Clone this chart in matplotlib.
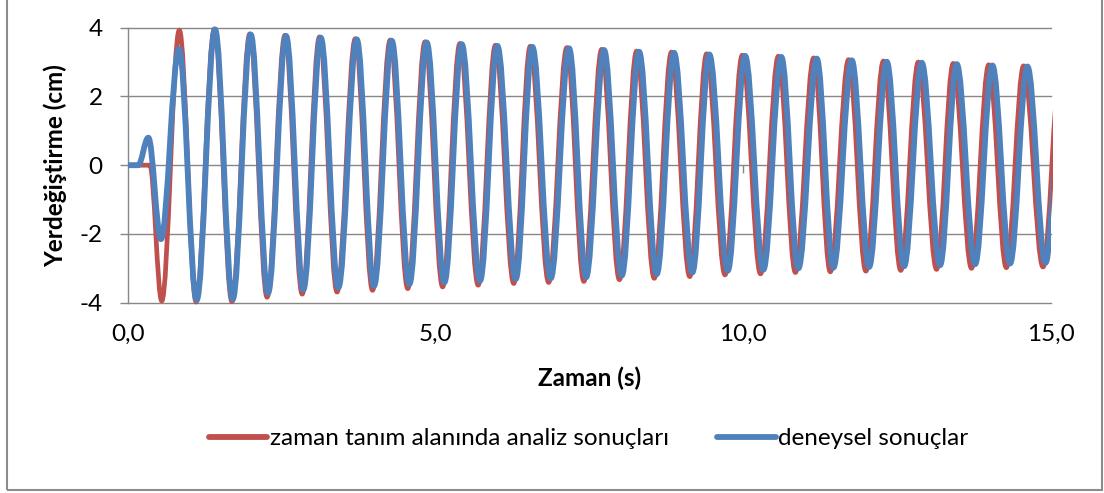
import numpy as np
import matplotlib.pyplot as plt
from matplotlib.path import Path
from matplotlib.patches import PathPatch, Rectangle
from matplotlib.lines import Line2D

plt.rcParams['font.family'] = ['Lato', 'DejaVu Sans']

# extrema (time in s, displacement in cm)
blue_t = [0.0, 0.17, 0.335, 0.54, 0.834, 1.121, 1.419, 1.706, 1.999, 2.280,
          2.573, 2.854, 3.137, 3.423, 3.722, 4.003, 4.291, 4.577, 4.859, 5.146,
          5.428, 5.726, 6.007, 6.306, 6.576, 6.875, 7.172, 7.449, 7.741, 8.029,
          8.310, 8.597, 8.878, 9.176, 9.452, 9.751, 10.033, 10.330, 10.621, 10.899,
          11.198, 11.468, 11.767, 12.048, 12.335, 12.617, 12.904, 13.201, 13.473, 13.771,
          14.052, 14.339, 14.621, 14.915, 15.20]
blue_y = [0, 0, 0.8, -2.15, 3.38, -3.92, 3.95, -3.9, 3.8, -3.72,
          3.76, -3.62, 3.71, -3.56, 3.66, -3.51, 3.62, -3.46, 3.57, -3.41,
          3.52, -3.36, 3.47, -3.31, 3.44, -3.29, 3.40, -3.26, 3.35, -3.21,
          3.30, -3.17, 3.27, -3.12, 3.22, -3.07, 3.18, -3.04, 3.15, -3.0,
          3.10, -2.98, 3.05, -2.96, 3.01, -2.94, 2.98, -2.91, 2.94, -2.88,
          2.90, -2.86, 2.87, -2.84, 2.82]

red_t = [0.0, 0.36, 0.553, 0.839, 1.112, 1.408, 1.694, 1.985, 2.265, 2.556,
         2.836, 3.117, 3.402, 3.699, 3.979, 4.266, 4.551, 4.832, 5.118, 5.399,
         5.696, 5.976, 6.274, 6.543, 6.841, 7.137, 7.413, 7.704, 7.991, 8.271,
         8.557, 8.837, 9.134, 9.409, 9.707, 9.988, 10.284, 10.574, 10.851, 11.149,
         11.418, 11.716, 11.996, 12.282, 12.563, 12.849, 13.145, 13.416, 13.713, 13.993,
         14.279, 14.560, 14.875, 15.16]
red_y = [0, 0, -3.95, 3.93, -3.98, 3.96, -3.97, 3.82, -3.84, 3.78,
         -3.75, 3.73, -3.69, 3.68, -3.64, 3.64, -3.59, 3.59, -3.54, 3.54,
         -3.49, 3.49, -3.44, 3.46, -3.41, 3.42, -3.38, 3.37, -3.33, 3.32,
         -3.29, 3.29, -3.24, 3.24, -3.19, 3.20, -3.16, 3.17, -3.12, 3.12,
         -3.10, 3.07, -3.08, 3.03, -3.06, 3.00, -3.03, 2.96, -3.00, 2.92,
         -2.98, 2.89, -2.96, 2.84]

names = ['zaman tanım alanında analiz sonuçları', 'deneysel sonuçlar']
colors = ['#C0504D', '#4F81BD']
x_ticks = [0, 5, 10, 15]
x_labels = ['0,0', '5,0', '10,0', '15,0']
y_ticks = [-4, -2, 0, 2, 4]


def smooth_path(ts, ys, k=0.364):
    # smoothed line like excel: bezier between extrema, flat tangents
    verts = [(ts[0], ys[0])]
    codes = [Path.MOVETO]
    for i in range(len(ts) - 1):
        dt = ts[i + 1] - ts[i]
        verts += [(ts[i] + k * dt, ys[i]), (ts[i + 1] - k * dt, ys[i + 1]), (ts[i + 1], ys[i + 1])]
        codes += [Path.CURVE4] * 3
    return Path(verts, codes)


fs = 17.5

fig = plt.figure(figsize=(11.04, 4.93), dpi=100)
ax = fig.add_axes([127.7 / 1104, 1 - 302.7 / 493, (1050.7 - 127.7) / 1104, 275 / 493])

ax.set_xlim(0, 15)
ax.set_ylim(-4, 4)

gray = '#878787'
for s in ['top', 'right', 'bottom']:
    ax.spines[s].set_visible(False)
ax.spines['left'].set_color(gray)
ax.spines['left'].set_linewidth(1.0)

ax.set_yticks(y_ticks)
ax.set_yticklabels([str(v) for v in y_ticks])
ax.tick_params(axis='y', direction='out', length=6, width=1.0, color=gray, pad=12, labelsize=fs)
ax.set_xticks(x_ticks)
ax.set_xticklabels(x_labels)
ax.tick_params(axis='x', length=0, pad=15, labelsize=fs)
ax.yaxis.grid(True, color=gray, linewidth=1.0)
for gl in ax.get_ygridlines():
    gl.set_clip_on(False)

# small tick marks of the horizontal axis (it crosses at 0)
ax.vlines(x_ticks[1:3], -0.22, 0, color=gray, linewidth=1.0, zorder=1)

# red under blue
red_patch = PathPatch(smooth_path(red_t, red_y), fill=False, edgecolor=colors[0], lw=3.4,
                      capstyle='round', joinstyle='round', zorder=3, transform=ax.transData)
ax.add_patch(red_patch)
red_patch.set_clip_path(Rectangle((0, -5), 15.04, 10, transform=ax.transData))
blue_patch = PathPatch(smooth_path(blue_t, blue_y), fill=False, edgecolor=colors[1], lw=4.2,
                       capstyle='round', joinstyle='round', zorder=4, transform=ax.transData)
ax.add_patch(blue_patch)
blue_patch.set_clip_path(Rectangle((0, -5), 15.0, 10, transform=ax.transData))

ax.set_xlabel('Zaman (s)', fontsize=fs, fontweight='bold', labelpad=16)
ax.set_ylabel('Yerdeğiştirme (cm)', fontsize=fs, fontweight='bold', labelpad=9)

handles = [Line2D([], [], color=colors[0], lw=4.2, solid_capstyle='round'),
           Line2D([], [], color=colors[1], lw=4.2, solid_capstyle='round')]
fig.legend(handles, names, loc='center', bbox_to_anchor=(0.533, 0.11), ncol=2, frameon=False,
           fontsize=fs, handlelength=2.4, handletextpad=0.1, columnspacing=2.0)

# chart border
fig.patches.append(Rectangle((7 / 1104, 1 - 490 / 493), (1102 - 7) / 1104, 490 / 493 + 0.01,
                             transform=fig.transFigure, fill=False, edgecolor='#8C8C8C', lw=1.5))

fig.savefig('out.png', dpi=100)
